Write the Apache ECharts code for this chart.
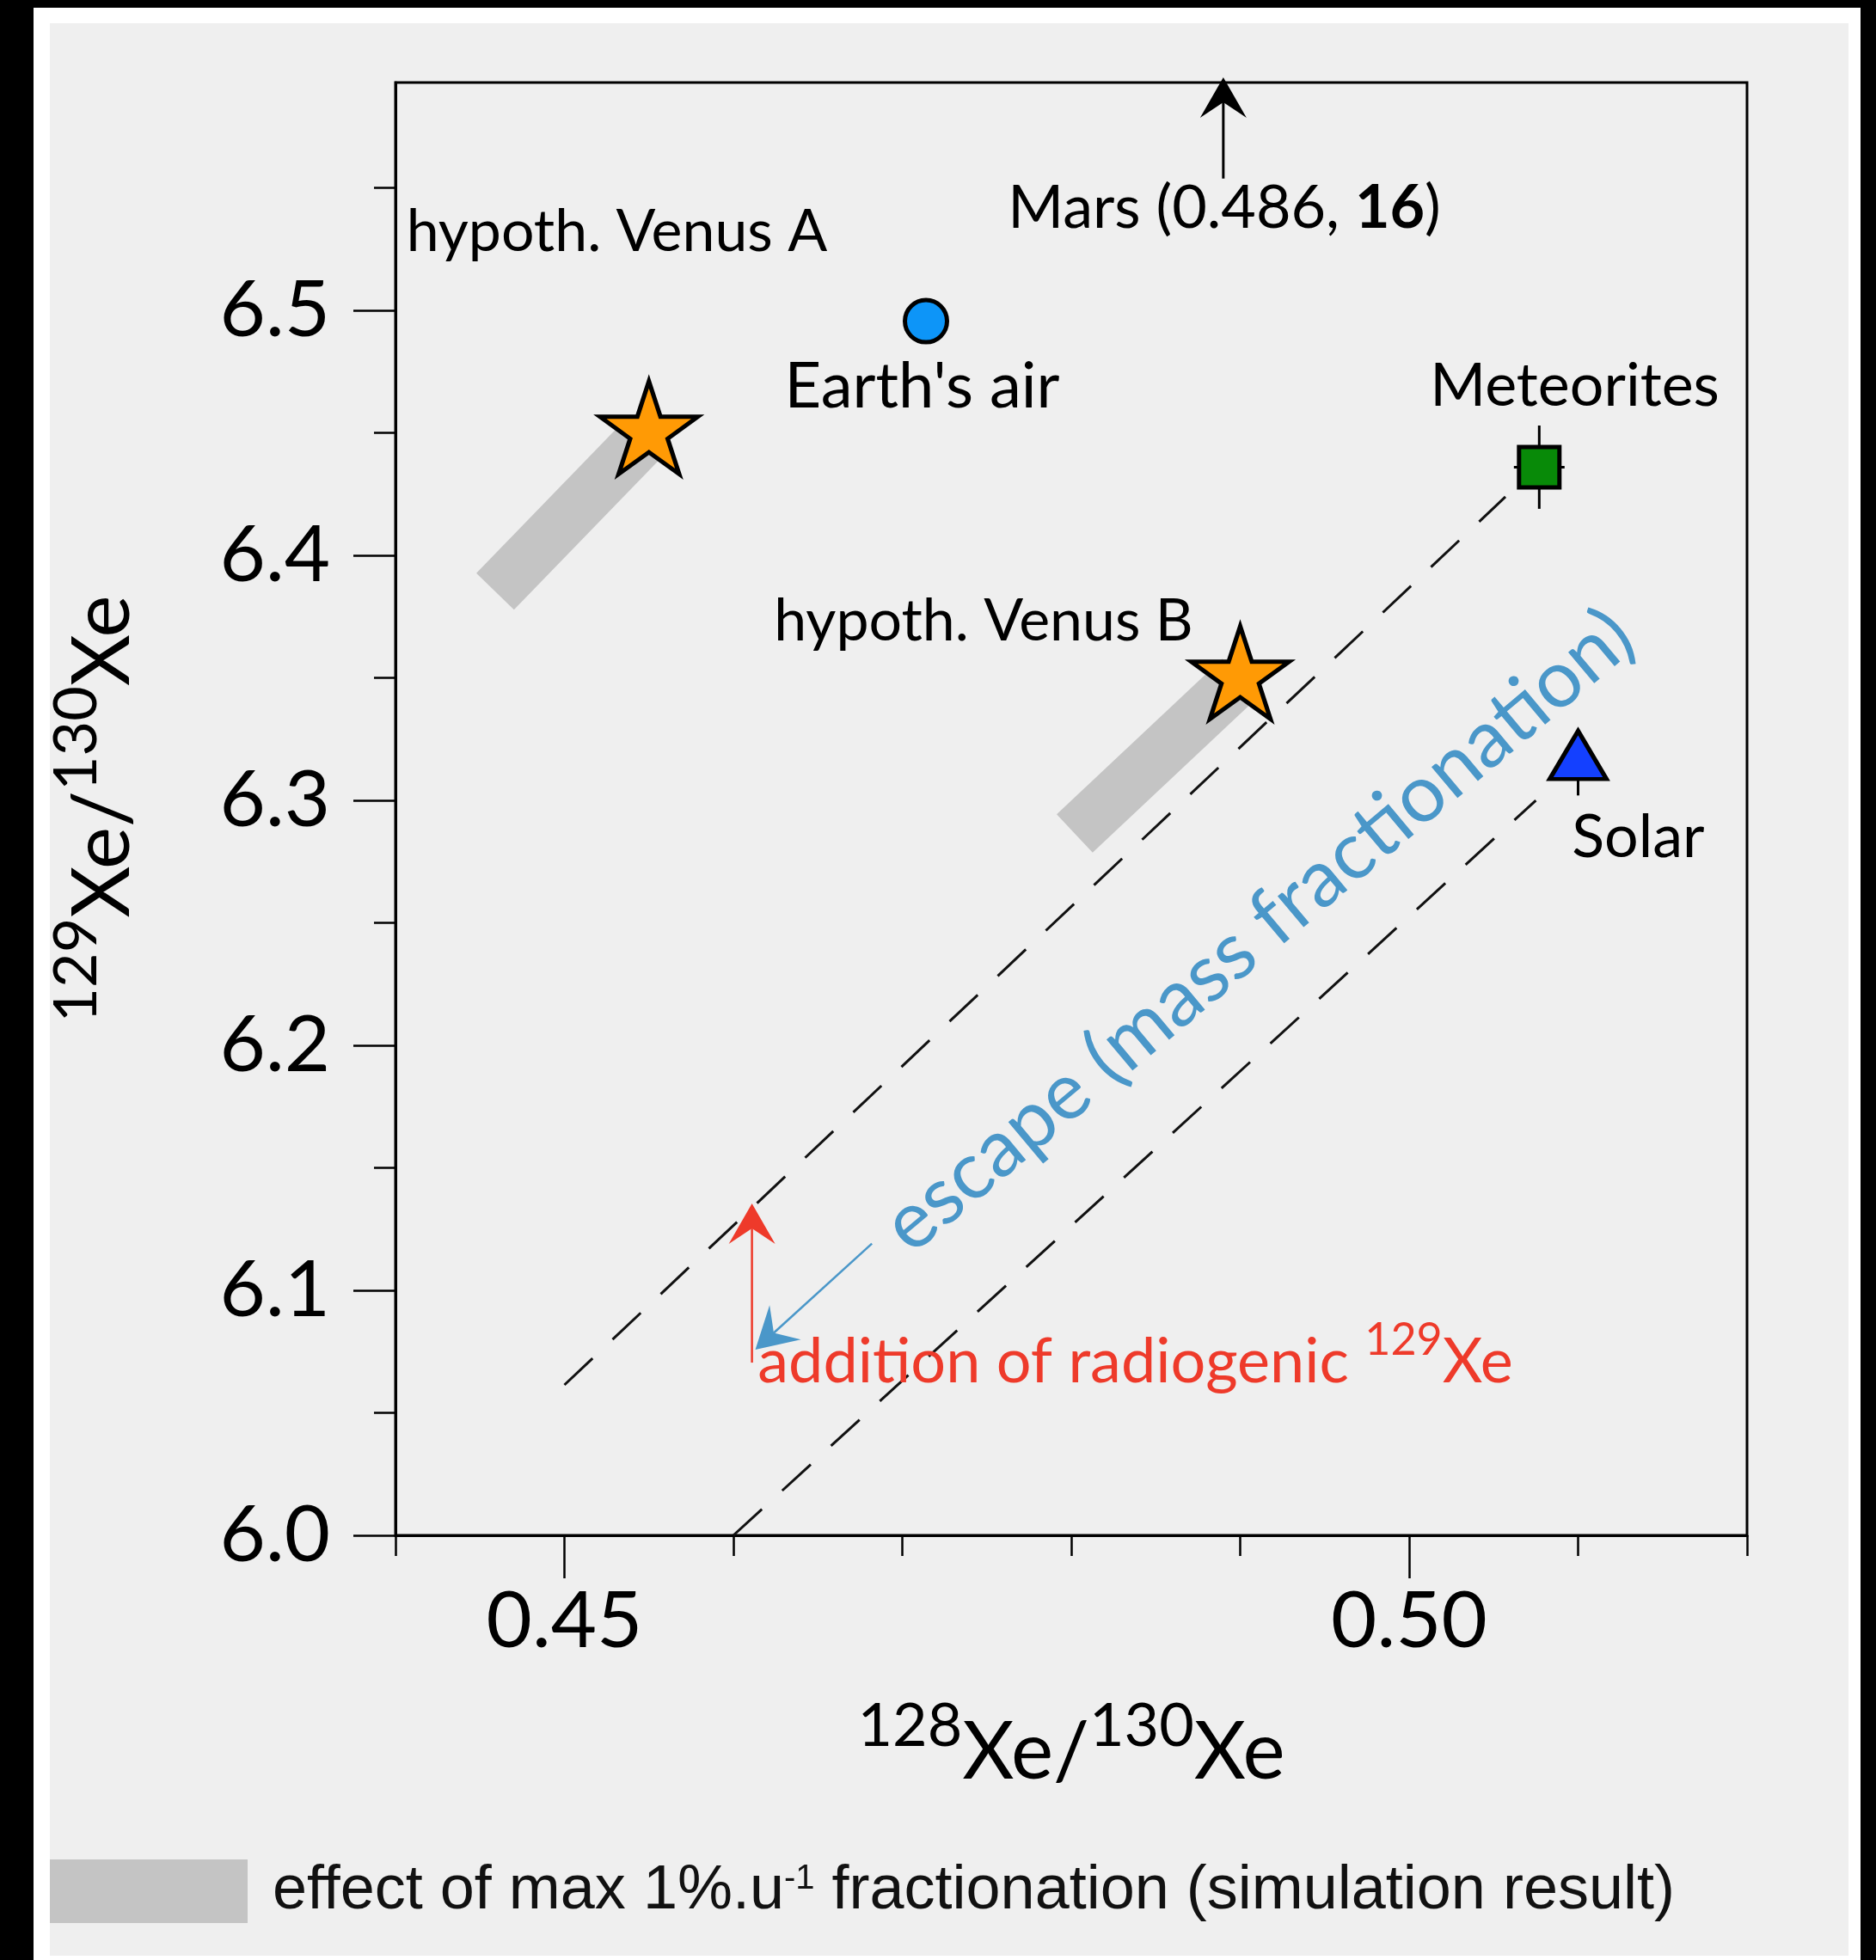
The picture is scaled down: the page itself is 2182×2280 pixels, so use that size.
<!DOCTYPE html>
<html><head><meta charset="utf-8">
<script src="https://cdn.jsdelivr.net/npm/echarts@6/dist/echarts.min.js"></script>
<style>
html,body{margin:0;padding:0;background:#000;width:2182px;height:2280px;overflow:hidden;}
#frame{position:absolute;left:39px;top:9px;width:2125px;height:2271px;background:#fff;}
#chart{position:absolute;left:58px;top:27px;width:2092px;height:2248px;background:#efefef;}
</style></head><body>
<div id="frame"></div>
<div id="chart"></div>
<script>
// ---- axes ----
const xMin = 0.44, xMax = 0.52;
const yMin = 6.0, yMax = 6.593;
const xMajorTicks = [0.45, 0.50];
const xMinorTicks = [0.44, 0.46, 0.47, 0.48, 0.49, 0.51, 0.52];
const yMajorTicks = [6.0, 6.1, 6.2, 6.3, 6.4, 6.5];
const yMinorTicks = [6.05, 6.15, 6.25, 6.35, 6.45, 6.55];

// ---- data points (128Xe/130Xe, 129Xe/130Xe) ----
const earthAir = [[0.4714, 6.4956]];
const hypothVenus = [[0.455, 6.45], [0.49, 6.35]];
const meteorites = [[0.5077, 6.436]];
const solar = [[0.51, 6.315]];
// vertical error bars: [x, yLow, yHigh]
const errorBarsY = [[0.5077, 6.419, 6.453], [0.51, 6.302, 6.328]];
// horizontal error bars: [y, xLow, xHigh]
const errorBarsX = [[6.436, 0.5062, 0.5092]];
// simulated fractionation effect: [x1, y1, x2, y2]
const fractionationBands = [[0.455, 6.45, 0.4459, 6.3853], [0.49, 6.35, 0.4802, 6.2865]];
// mass fractionation lines: [x1, y1, x2, y2]
const fractionationLines = [[0.45, 6.0614, 0.5057, 6.4239], [0.46, 6.0, 0.5075, 6.3]];
// arrows: [xFrom, yFrom, xTo, yTo]
const marsArrow = [[0.489, 6.5538, 0.489, 6.5951]];
const radiogenicArrow = [[0.4611, 6.0705, 0.4611, 6.1354]];
const escapeArrow = [[0.4682, 6.1191, 0.4613, 6.0758]];

// ---- annotations ----
const labelTexts = ['hypoth. Venus A', "Earth's air", 'Mars (0.486, 16)', 'Meteorites',
  'hypoth. Venus B', 'Solar', 'addition of radiogenic 129Xe', 'escape (mass fractionation)'];
const labelAnchors = [[0.4531, 6.5319], [0.47117, 6.4688], [0.48906, 6.5416], [0.5098, 6.4689],
  [0.47481, 6.373], [0.51356, 6.2849], [0.48379, 6.0705], [0.4911, 6.2467]];

const FONT = 'Lato';
const BLUE_TXT = '#4a97c9';
const RED = '#ee3a2a';

const starPath = 'path://M0,-100L22.45,-30.9L95.11,-30.9L36.33,11.8L58.78,80.9L0,38.2L-58.78,80.9L-36.33,11.8L-95.11,-30.9L-22.45,-30.9Z';

function segCoords(api) {
  return [api.coord([api.value(0), api.value(1)]), api.coord([api.value(2), api.value(3)])];
}
function renderBand(params, api) {
  const [a, b] = segCoords(api);
  return {type: 'line', shape: {x1: a[0], y1: a[1], x2: b[0], y2: b[1]},
    style: {stroke: api.visual('color'), lineWidth: 61, lineCap: 'butt'}};
}
function renderDashed(params, api) {
  const [a, b] = segCoords(api);
  return {type: 'line', shape: {x1: a[0], y1: a[1], x2: b[0], y2: b[1]},
    style: {stroke: '#111', lineWidth: 3, lineDash: [45, 32], lineCap: 'butt'}};
}
function makeArrowRenderer(lineWidth) {
  return function (params, api) {
    const [a, b] = segCoords(api);
    const color = api.visual('color');
    const dx = b[0] - a[0], dy = b[1] - a[1], L = Math.hypot(dx, dy);
    const ux = dx / L, uy = dy / L, px = -uy, py = ux;
    const headLen = 47, notch = 29, half = 27;
    const n = [b[0] - ux * notch, b[1] - uy * notch];
    const c1 = [b[0] - ux * headLen + px * half, b[1] - uy * headLen + py * half];
    const c2 = [b[0] - ux * headLen - px * half, b[1] - uy * headLen - py * half];
    return {type: 'group', children: [
      {type: 'line', shape: {x1: a[0], y1: a[1], x2: n[0], y2: n[1]}, style: {stroke: color, lineWidth: lineWidth}},
      {type: 'polygon', shape: {points: [b, c1, n, c2]}, style: {fill: color}}
    ]};
  };
}
function renderErrY(params, api) {
  const lo = api.coord([api.value(0), api.value(1)]);
  const hi = api.coord([api.value(0), api.value(2)]);
  return {type: 'line', shape: {x1: lo[0], y1: lo[1], x2: hi[0], y2: hi[1]}, style: {stroke: '#000', lineWidth: 3}};
}
function renderErrX(params, api) {
  const lo = api.coord([api.value(1), api.value(0)]);
  const hi = api.coord([api.value(2), api.value(0)]);
  return {type: 'line', shape: {x1: lo[0], y1: lo[1], x2: hi[0], y2: hi[1]}, style: {stroke: '#000', lineWidth: 3}};
}

const annStyles = [
  {fontSize: 68},
  {fontSize: 74},
  {fontSize: 70, formatter: '{m|Mars (0.486, }{b|16}{m|)}',
    rich: {m: {fontSize: 70, fontFamily: FONT, color: '#000'}, b: {fontSize: 70, fontFamily: FONT, fontWeight: 'bold', color: '#000'}}},
  {fontSize: 70},
  {fontSize: 68},
  {fontSize: 70},
  {fontSize: 72, color: RED, formatter: '{r|addition of radiogenic }{s|129}{r|Xe}',
    rich: {r: {fontSize: 72, lineHeight: 72, fontFamily: FONT, color: RED},
           s: {fontSize: 52, lineHeight: 52, padding: [0, 0, 52, 0], fontFamily: FONT, color: RED}}},
  {fontSize: 93, color: BLUE_TXT, rotate: 40}
];
const annotationData = labelTexts.map((t, i) => {
  const st = annStyles[i];
  return {
    value: labelAnchors[i],
    label: {
      show: true, position: 'inside', align: 'center', verticalAlign: 'middle', opacity: 1,
      fontFamily: FONT, fontSize: st.fontSize, color: st.color || '#000',
      rotate: st.rotate || 0,
      formatter: st.formatter || t,
      rich: st.rich || {}
    }
  };
});

const axisNameRich = {
  m: {fontSize: 93, lineHeight: 93, fontFamily: FONT, color: '#000'},
  s: {fontSize: 70, lineHeight: 70, padding: [0, 0, 61, 0], fontFamily: FONT, color: '#000'}
};

const chart = echarts.init(document.getElementById('chart'), null, {renderer: 'canvas'});
const gridBox = {left: 402, top: 69, right: 118, bottom: 489};
chart.setOption({
  animation: false,
  backgroundColor: '#efefef',
  textStyle: {fontFamily: FONT},
  grid: [
    Object.assign({show: true, borderColor: '#000', borderWidth: 3, backgroundColor: 'transparent', containLabel: false, outerBoundsMode: 'none'}, gridBox),
    Object.assign({show: false, containLabel: false, outerBoundsMode: 'none'}, gridBox)
  ],
  legend: {
    left: 0, top: 2136, padding: 0, itemWidth: 230, itemHeight: 74, icon: 'rect',
    selectedMode: false, data: ['simulation'],
    itemStyle: {color: '#c4c4c4', borderWidth: 0},
    formatter: () => '{t|effect of max 1%.u}{s|-1}{t| fractionation (simulation result)}',
    textStyle: {
      padding: [0, 0, 0, 24],
      rich: {
        t: {fontFamily: 'Liberation Sans', fontSize: 72, lineHeight: 74, color: '#111'},
        s: {fontFamily: 'Liberation Sans', fontSize: 40, lineHeight: 40, padding: [0, 0, 28, 0], color: '#111'}
      }
    }
  },
  xAxis: [
    {
      gridIndex: 0, type: 'value', min: xMin, max: xMax, position: 'bottom',
      axisLine: {show: true, onZero: false, lineStyle: {color: '#000', width: 3}},
      axisTick: {show: true, inside: false, length: 50, customValues: xMajorTicks, lineStyle: {color: '#000', width: 2.5}},
      axisLabel: {show: true, customValues: xMajorTicks, margin: 54, fontSize: 92, fontFamily: FONT, color: '#000',
        formatter: v => v.toFixed(2)},
      splitLine: {show: false},
      name: '{s|128}{m|Xe/}{s|130}{m|Xe}', nameLocation: 'middle', nameGap: 206, nameMoveOverlap: false,
      nameTextStyle: {rich: axisNameRich}
    },
    {
      gridIndex: 1, type: 'value', min: xMin, max: xMax, position: 'bottom',
      axisLine: {show: false},
      axisTick: {show: true, inside: false, length: 24, customValues: xMinorTicks, lineStyle: {color: '#000', width: 2.5}},
      axisLabel: {show: false}, splitLine: {show: false}
    }
  ],
  yAxis: [
    {
      gridIndex: 0, type: 'value', min: yMin, max: yMax, position: 'left',
      axisLine: {show: true, onZero: false, lineStyle: {color: '#000', width: 3}},
      axisTick: {show: true, inside: false, length: 49, customValues: yMajorTicks, lineStyle: {color: '#000', width: 2.5}},
      axisLabel: {show: true, customValues: yMajorTicks, margin: 76, fontSize: 92, fontFamily: FONT, color: '#000',
        formatter: v => v.toFixed(1)},
      splitLine: {show: false},
      name: '{s|129}{m|Xe/}{s|130}{m|Xe}', nameLocation: 'middle', nameGap: 294, nameMoveOverlap: false,
      nameTextStyle: {rich: axisNameRich}
    },
    {
      gridIndex: 1, type: 'value', min: yMin, max: yMax, position: 'left',
      axisLine: {show: false},
      axisTick: {show: true, inside: false, length: 25, customValues: yMinorTicks, lineStyle: {color: '#000', width: 2.5}},
      axisLabel: {show: false}, splitLine: {show: false}
    }
  ],
  series: [
    {name: 'simulation', type: 'custom', renderItem: renderBand, data: fractionationBands, clip: false, silent: true, z: 1,
      itemStyle: {color: '#c4c4c4'}, encode: {x: [0, 2], y: [1, 3]}},
    {name: 'fractionation lines', type: 'custom', renderItem: renderDashed, data: fractionationLines, clip: false, silent: true, z: 2,
      encode: {x: [0, 2], y: [1, 3]}},
    {name: 'errY', type: 'custom', renderItem: renderErrY, data: errorBarsY, clip: false, silent: true, z: 3,
      encode: {x: 0, y: [1, 2]}},
    {name: 'errX', type: 'custom', renderItem: renderErrX, data: errorBarsX, clip: false, silent: true, z: 3,
      encode: {y: 0, x: [1, 2]}},
    {name: "Earth's air", type: 'scatter', data: earthAir, symbol: 'circle', symbolSize: 49, z: 4, silent: true,
      itemStyle: {color: '#0d95f8', borderColor: '#000', borderWidth: 5, opacity: 1}},
    {name: 'hypoth. Venus', type: 'scatter', data: hypothVenus, symbol: starPath, symbolSize: [114, 108], symbolOffset: [0, -6], z: 4, silent: true,
      itemStyle: {color: '#ff9a05', borderColor: '#000', borderWidth: 5, borderJoin: 'miter', opacity: 1}},
    {name: 'Meteorites', type: 'scatter', data: meteorites, symbol: 'rect', symbolSize: 47, z: 4, silent: true,
      itemStyle: {color: '#088a08', borderColor: '#000', borderWidth: 5, borderJoin: 'miter', opacity: 1}},
    {name: 'Solar', type: 'scatter', data: solar, symbol: 'triangle', symbolSize: [66, 56], symbolOffset: [0, -10], z: 4, silent: true,
      itemStyle: {color: '#1440ff', borderColor: '#000', borderWidth: 5, borderJoin: 'miter', opacity: 1}},
    {name: 'mars arrow', type: 'custom', renderItem: makeArrowRenderer(3), data: marsArrow, clip: false, silent: true, z: 5,
      itemStyle: {color: '#000'}, encode: {x: [0, 2], y: [1, 3]}},
    {name: 'radiogenic arrow', type: 'custom', renderItem: makeArrowRenderer(2.5), data: radiogenicArrow, clip: false, silent: true, z: 5,
      itemStyle: {color: RED}, encode: {x: [0, 2], y: [1, 3]}},
    {name: 'escape arrow', type: 'custom', renderItem: makeArrowRenderer(2.5), data: escapeArrow, clip: false, silent: true, z: 5,
      itemStyle: {color: BLUE_TXT}, encode: {x: [0, 2], y: [1, 3]}},
    {name: 'annotations', type: 'scatter', data: annotationData, symbol: 'circle', symbolSize: 2, z: 6, silent: true,
      itemStyle: {color: 'rgba(0,0,0,0)', borderWidth: 0, opacity: 1}}
  ]
});
</script></body></html>
